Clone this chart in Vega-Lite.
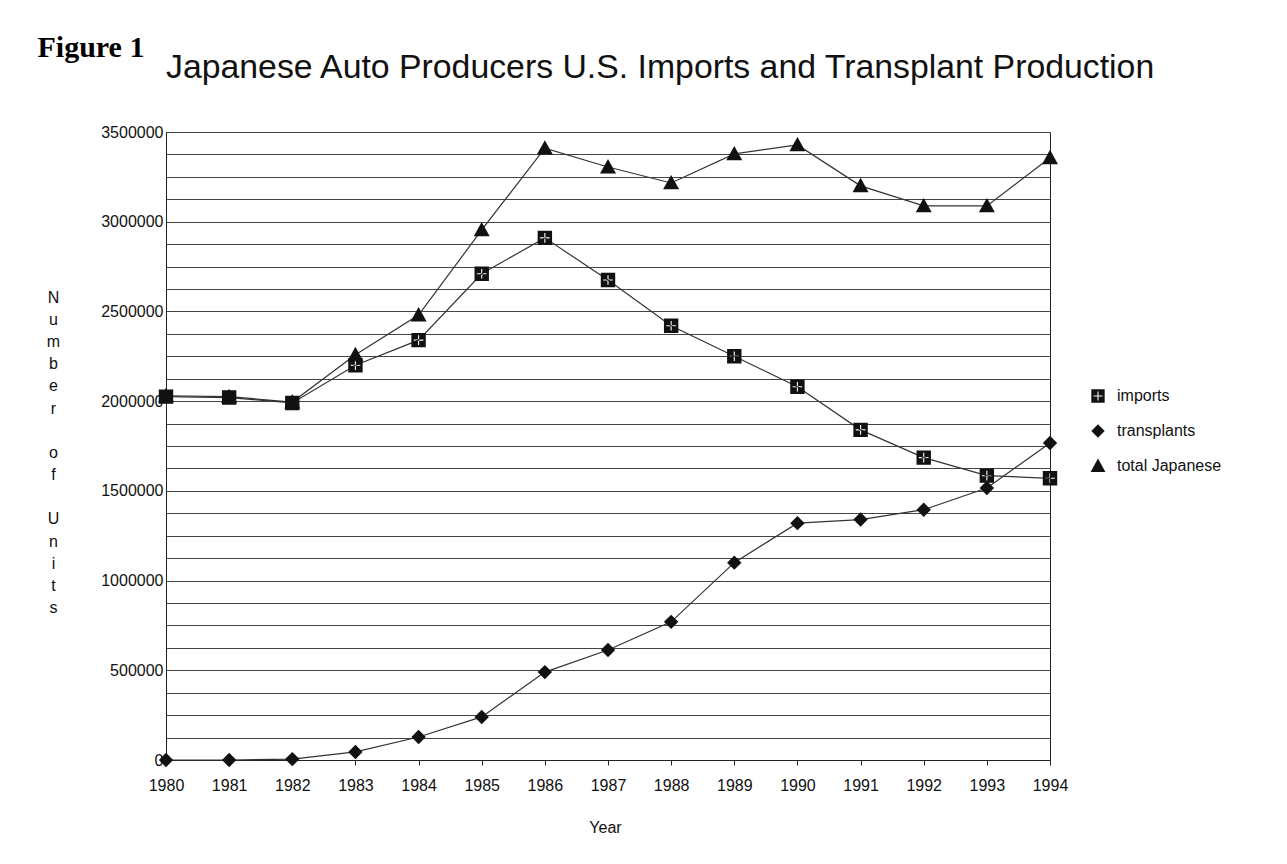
{
  "$schema": "https://vega.github.io/schema/vega-lite/v6.json",
  "width": 884,
  "height": 628,
  "autosize": "none",
  "padding": {"left": 166, "top": 132, "right": 237, "bottom": 104},
  "background": "white",
  "title": {
    "text": "Japanese Auto Producers U.S. Imports and Transplant Production",
    "anchor": "start",
    "frame": "group",
    "baseline": "alphabetic",
    "dx": 0,
    "dy": 80,
    "offset": 0,
    "font": "Liberation Sans",
    "fontSize": 33.8,
    "fontWeight": "normal",
    "color": "#111"
  },
  "data": {
    "values": [
      {"year": 1980, "series": "imports", "units": 2025000},
      {"year": 1981, "series": "imports", "units": 2020000},
      {"year": 1982, "series": "imports", "units": 1990000},
      {"year": 1983, "series": "imports", "units": 2200000},
      {"year": 1984, "series": "imports", "units": 2340000},
      {"year": 1985, "series": "imports", "units": 2710000},
      {"year": 1986, "series": "imports", "units": 2910000},
      {"year": 1987, "series": "imports", "units": 2675000},
      {"year": 1988, "series": "imports", "units": 2420000},
      {"year": 1989, "series": "imports", "units": 2250000},
      {"year": 1990, "series": "imports", "units": 2080000},
      {"year": 1991, "series": "imports", "units": 1840000},
      {"year": 1992, "series": "imports", "units": 1685000},
      {"year": 1993, "series": "imports", "units": 1585000},
      {"year": 1994, "series": "imports", "units": 1570000},
      {"year": 1980, "series": "transplants", "units": 0},
      {"year": 1981, "series": "transplants", "units": 0},
      {"year": 1982, "series": "transplants", "units": 5000},
      {"year": 1983, "series": "transplants", "units": 45000},
      {"year": 1984, "series": "transplants", "units": 128000},
      {"year": 1985, "series": "transplants", "units": 240000},
      {"year": 1986, "series": "transplants", "units": 490000},
      {"year": 1987, "series": "transplants", "units": 613000},
      {"year": 1988, "series": "transplants", "units": 770000},
      {"year": 1989, "series": "transplants", "units": 1100000},
      {"year": 1990, "series": "transplants", "units": 1320000},
      {"year": 1991, "series": "transplants", "units": 1340000},
      {"year": 1992, "series": "transplants", "units": 1395000},
      {"year": 1993, "series": "transplants", "units": 1516000},
      {"year": 1994, "series": "transplants", "units": 1767000},
      {"year": 1980, "series": "total Japanese", "units": 2030000},
      {"year": 1981, "series": "total Japanese", "units": 2025000},
      {"year": 1982, "series": "total Japanese", "units": 1995000},
      {"year": 1983, "series": "total Japanese", "units": 2258000},
      {"year": 1984, "series": "total Japanese", "units": 2480000},
      {"year": 1985, "series": "total Japanese", "units": 2954000},
      {"year": 1986, "series": "total Japanese", "units": 3410000},
      {"year": 1987, "series": "total Japanese", "units": 3305000},
      {"year": 1988, "series": "total Japanese", "units": 3216000},
      {"year": 1989, "series": "total Japanese", "units": 3378000},
      {"year": 1990, "series": "total Japanese", "units": 3428000},
      {"year": 1991, "series": "total Japanese", "units": 3200000},
      {"year": 1992, "series": "total Japanese", "units": 3088000},
      {"year": 1993, "series": "total Japanese", "units": 3088000},
      {"year": 1994, "series": "total Japanese", "units": 3356000}
    ]
  },
  "encoding": {
    "x": {
      "field": "year",
      "type": "quantitative",
      "scale": {"domain": [1980, 1994], "nice": false, "zero": false},
      "axis": {
        "values": [1980, 1981, 1982, 1983, 1984, 1985, 1986, 1987, 1988, 1989, 1990, 1991, 1992, 1993, 1994],
        "format": "d",
        "grid": false,
        "ticks": true,
        "tickSize": 5,
        "tickColor": "#222",
        "domainColor": "#222",
        "labelFontSize": 16,
        "labelColor": "#111",
        "labelPadding": 12,
        "labelFlush": false,
        "labelOverlap": false,
        "title": "Year",
        "titleFontSize": 16,
        "titleFontWeight": "normal",
        "titleColor": "#111",
        "titleAlign": "center",
        "titleBaseline": "top",
        "titleX": 439,
        "titleY": 59
      }
    }
  },
  "layer": [
    {
      "mark": {"type": "line", "color": "#333", "strokeWidth": 1.2},
      "encoding": {
        "detail": {"field": "series", "type": "nominal"},
        "y": {
          "field": "units",
          "type": "quantitative",
          "scale": {"domain": [0, 3500000], "nice": false},
          "axis": {
            "values": [0, 125000, 250000, 375000, 500000, 625000, 750000, 875000, 1000000, 1125000, 1250000, 1375000, 1500000, 1625000, 1750000, 1875000, 2000000, 2125000, 2250000, 2375000, 2500000, 2625000, 2750000, 2875000, 3000000, 3125000, 3250000, 3375000, 3500000],
            "format": "d",
            "labelExpr": "datum.value % 500000 === 0 ? datum.label : ''",
            "grid": true,
            "gridColor": "#444",
            "gridWidth": 1,
            "ticks": false,
            "domainColor": "#222",
            "labelPadding": 3,
            "labelFontSize": 16,
            "labelColor": "#111",
            "labelFlush": false,
            "labelOverlap": false,
            "title": ["N", "u", "m", "b", "e", "r", "\u200b\u00a0\u200b", "o", "f", "\u200b\u00a0\u200b", "U", "n", "i", "t", "s"],
            "titleAngle": 0,
            "titleAlign": "center",
            "titleBaseline": "top",
            "titleX": -113,
            "titleY": 157,
            "titleLineHeight": 22.2,
            "titleFontSize": 16,
            "titleFontWeight": "normal",
            "titleColor": "#111"
          }
        }
      }
    },
    {
      "mark": {"type": "point", "filled": true, "opacity": 1, "color": "#111", "size": 256},
      "encoding": {
        "y": {
          "field": "units",
          "type": "quantitative",
          "axis": {
            "orient": "right",
            "labels": false,
            "ticks": false,
            "domain": false,
            "grid": false,
            "title": "Figure 1",
            "titleAngle": 0,
            "titleAlign": "left",
            "titleBaseline": "alphabetic",
            "titleX": -1013,
            "titleY": -76,
            "titleFont": "Liberation Serif",
            "titleFontSize": 30,
            "titleFontWeight": "bold",
            "titleColor": "#000"
          }
        },
        "order": {"field": "series", "type": "nominal", "sort": "ascending"},
        "shape": {
          "field": "series",
          "type": "nominal",
          "scale": {
            "domain": ["imports", "transplants", "total Japanese"],
            "range": [
              "M-0.9,-0.9H0.9V0.9H-0.9Z M-0.07,-0.6L-0.07,-0.07L-0.6,-0.07L-0.6,0.07L-0.07,0.07L-0.07,0.6L0.07,0.6L0.07,0.07L0.6,0.07L0.6,-0.07L0.07,-0.07L0.07,-0.6Z",
              "M0,-0.9L0.9,0L0,0.9L-0.9,0Z",
              "M0,-1L1,0.8L-1,0.8Z"
            ]
          },
          "legend": {
            "orient": "none",
            "legendX": 924,
            "legendY": 256,
            "title": null,
            "padding": 0,
            "labelFontSize": 16,
            "labelColor": "#111",
            "labelOffset": 11,
            "rowPadding": 19,
            "symbolSize": 220,
            "symbolFillColor": "#111",
            "symbolStrokeWidth": 0
          }
        }
      }
    }
  ],
  "resolve": {"axis": {"y": "independent"}},
  "config": {
    "font": "Liberation Sans",
    "view": {"stroke": "#222", "strokeWidth": 1}
  }
}
